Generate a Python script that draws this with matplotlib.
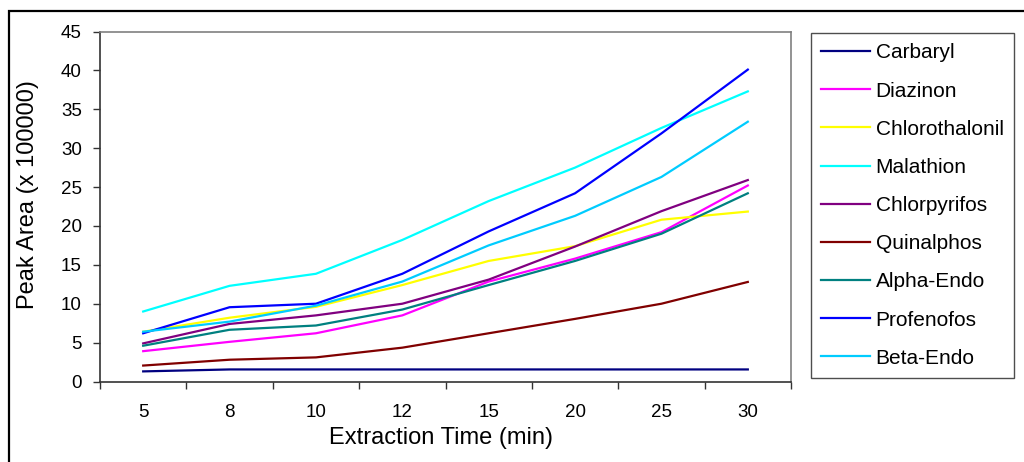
import matplotlib
matplotlib.use("Agg")
import matplotlib.pyplot as plt
from matplotlib.patches import Rectangle

plt.rcParams['font.family'] = ['Liberation Sans', 'DejaVu Sans']

times = ["5", "8", "10", "12", "15", "20", "25", "30"]

carbaryl = [1.3, 1.55, 1.55, 1.55, 1.55, 1.55, 1.55, 1.55]
diazinon = [3.9, 5.1, 6.2, 8.5, 12.85, 15.8, 19.2, 25.2]
chlorothalonil = [6.4, 8.2, 9.6, 12.4, 15.5, 17.4, 20.8, 21.85]
malathion = [9.0, 12.3, 13.85, 18.2, 23.2, 27.5, 32.6, 37.3]
chlorpyrifos = [4.9, 7.4, 8.5, 10.0, 13.1, 17.35, 21.9, 25.9]
quinalphos = [2.05, 2.8, 3.1, 4.35, 6.2, 8.05, 10.0, 12.8]
alpha_endo = [4.6, 6.65, 7.2, 9.25, 12.4, 15.5, 19.0, 24.2]
profenofos = [6.2, 9.55, 10.0, 13.85, 19.3, 24.2, 31.9, 40.1]
beta_endo = [6.4, 7.7, 9.75, 12.85, 17.5, 21.3, 26.3, 33.4]

series_names = ["Carbaryl", "Diazinon", "Chlorothalonil", "Malathion",
                "Chlorpyrifos", "Quinalphos", "Alpha-Endo", "Profenofos", "Beta-Endo"]
series_values = [carbaryl, diazinon, chlorothalonil, malathion,
                 chlorpyrifos, quinalphos, alpha_endo, profenofos, beta_endo]
series_colors = ["#000080", "#FF00FF", "#FFFF00", "#00FFFF", "#800080",
                 "#800000", "#008080", "#0000FF", "#00CCFF"]

fig = plt.figure(figsize=(10.24, 4.62), dpi=100)
ax = fig.add_axes([100/1024, 1-381.5/462, 691/1024, 350/462])

x = list(range(len(times)))
for name, vals, col in zip(series_names, series_values, series_colors):
    ax.plot(x, vals, color=col, lw=1.6, label=name)

ax.set_xlim(-0.5, len(times) - 0.5)
ax.set_ylim(0, 45)
ax.set_yticks(range(0, 46, 5))
ax.set_xticks(x)
ax.set_xticklabels(times)
ax.set_xticks([i - 0.5 for i in range(len(times) + 1)], minor=True)
ax.tick_params(axis='x', which='major', length=0, pad=16, labelsize=13.5)
ax.tick_params(axis='x', which='minor', length=5, width=1, color='#333333', direction='out')
ax.tick_params(axis='y', length=5, width=1, color='#333333', direction='out', pad=8, labelsize=13.5)

for s in ['left', 'bottom']:
    ax.spines[s].set_color('#333333')
    ax.spines[s].set_linewidth(1.2)
for s in ['top', 'right']:
    ax.spines[s].set_color('#808080')
    ax.spines[s].set_linewidth(1.2)

ax.set_xlabel("Extraction Time (min)", fontsize=17)
ax.xaxis.label.set_va('center')
ax.xaxis.set_label_coords(0.493, -0.161)
ax.set_ylabel("Peak Area (x 100000)", fontsize=17)
ax.yaxis.label.set_va('center')
ax.yaxis.set_label_coords(-0.104, 0.533)

leg = ax.legend(loc='upper left', bbox_to_anchor=(811/1024, 1-33/462),
                bbox_transform=fig.transFigure, fontsize=15, frameon=True,
                fancybox=False, borderaxespad=0, handlelength=2.35,
                handletextpad=0.25, labelspacing=0.92, borderpad=0.5)
leg.get_frame().set_edgecolor('#222222')
leg.get_frame().set_linewidth(1.0)

fig.patches.append(Rectangle((9/1024, -0.2), 1.2, 1.2 + (462-11)/462 - 1.0 + 0.0,
                             transform=fig.transFigure, fill=False,
                             edgecolor='black', lw=1.6))

fig.savefig("out.png", dpi=100)
